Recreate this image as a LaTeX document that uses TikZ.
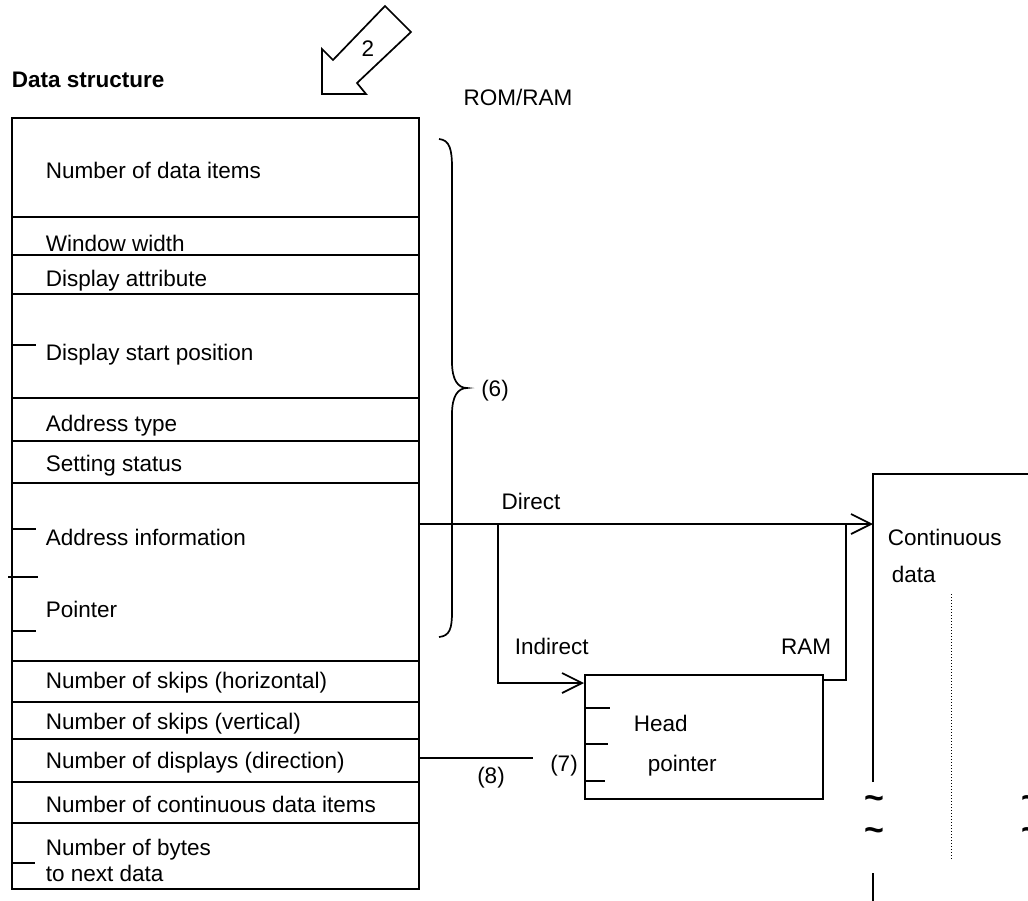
\documentclass[tikz,border=0pt]{standalone}
\usepackage{fontspec}
\setmainfont{Liberation Sans}
\usetikzlibrary{arrows.meta, positioning, calc}

\begin{document}
\begin{tikzpicture}[
    x=0.5pt, y=-0.5pt,
    font=\fontsize{11.25}{13.5}\selectfont,
    line width=0.85pt,
    frame/.style={draw, line width=0.85pt, inner sep=0pt, anchor=north west},
    lbl/.style={anchor=west, inner sep=0pt, text height=8pt, text depth=0pt},
    tag/.style={inner sep=0pt, text height=8pt, text depth=0pt},
    conn/.style={line width=0.85pt, -{Straight Barb[length=10pt, width=10pt, line width=0.85pt]}},
    wave/.style={inner sep=0pt, font=\fontsize{17}{18}\selectfont\bfseries}
]
\useasboundingbox (0,0) rectangle (1028,900);
\clip (0,0) rectangle (1028,900);

% title and pointer arrow
\node (title) [lbl, font=\fontsize{11.25}{13.5}\selectfont\bfseries] at (11,79) {Data structure};
\draw (385,6) -- (411,32) -- (357,83) -- (366,94) -- (322,94) -- (322,49) -- (333,60) -- cycle;
\node (two) [tag] at (368,48) {2};
\node (romram) [tag] at (518,97) {ROM/RAM};

% data structure table
\node (ds) [frame, minimum width=203.5pt, minimum height=385.5pt] at (11,117) {};
\foreach \y in {217,255,294,398,441,483,661,702,739,782,823}
    \draw (ds.west |- 0,\y) -- (ds.east |- 0,\y);
\foreach \y/\t [count=\i] in {170/Number of data items, 243/Window width, 278/Display attribute,
    352/Display start position, 423/Address type, 463/Setting status,
    537/Address information, 609/Pointer, 680/Number of skips (horizontal),
    721/Number of skips (vertical), 760/Number of displays (direction),
    804/Number of continuous data items, 847/Number of bytes, 873/to next data}
    \node (row\i) [lbl] at (45,\y) {\t};
\foreach \y/\l in {345/36, 529/36, 631/36, 863/35}
    \draw (11,\y) -- (\l,\y);
\draw (8,577) -- (38,577);

% brace (6)
\draw (439,139) .. controls (450,140) and (452,150) .. (452,168) -- (452,362)
    .. controls (452,380) and (458,388) .. (467,388)
    .. controls (458,388) and (452,396) .. (452,414) -- (452,612)
    .. controls (452,628) and (450,636) .. (439,637);
\node (six) [tag] at (495,388) {(6)};

% head pointer box
\node (head) [frame, minimum width=119pt, minimum height=62pt] at (584,674) {};
\foreach \y/\l in {708/610, 744/608, 781/605}
    \draw (head.west |- 0,\y) -- (\l,\y);
\node (headA) [lbl] at (633,723) {Head};
\node (headB) [lbl] at (647,763) {pointer};

% continuous data area
\draw (873,782) -- (873,474) -- (1045,474);
\draw (873,873) -- (873,910);
\node (contA) [lbl] at (887,537) {Continuous};
\node (contB) [lbl] at (891,574) {data};
\draw [line width=0.5pt, densely dotted] (951,594) -- (951,860);
\foreach \x in {874,1031}
    \foreach \y in {803,835}
        \node (w\x\y) [wave] at (\x,\y) {\textasciitilde};

% connectors
\coordinate (dirsrc) at (418,524);
\coordinate (contin) at (873,524);
\coordinate (split) at (498,524);
\coordinate (ramjoin) at (846,524);
\draw [conn] (dirsrc) -- (contin);
\node (direct) [tag] at (531,501) {Direct};
\draw [conn] (split) |- ($(head.north west)+(0,9)$);
\node (indirect) [lbl] at (514,646) {Indirect};
\draw ($(head.north east)+(0,6)$) -| (ramjoin);
\node (ram) [tag] at (806,646) {RAM};

\coordinate (numsrc) at (418,758);
\coordinate (numend) at (533,758);
\draw (numsrc) -- (numend);
\node (eight) [tag] at (491,775) {(8)};
\node (seven) [tag] at (564,763) {(7)};

\end{tikzpicture}
\end{document}
